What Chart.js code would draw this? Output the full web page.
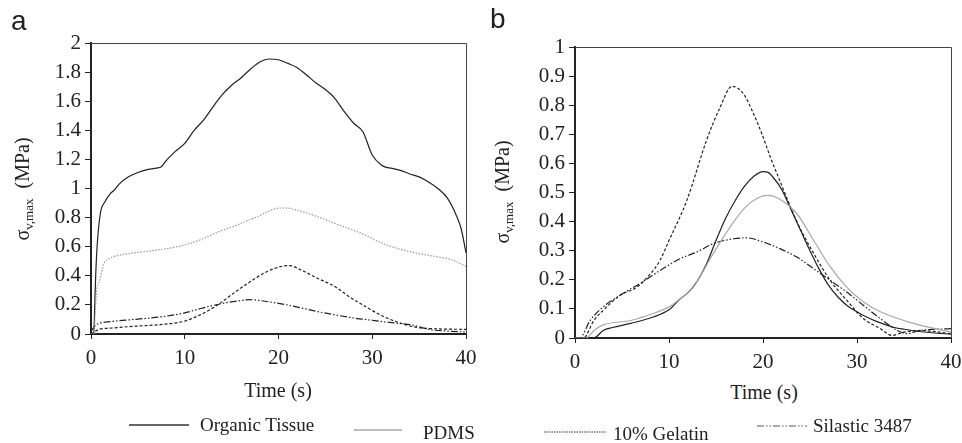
<!DOCTYPE html>
<html>
<head>
<meta charset="utf-8">
<script src="https://cdn.jsdelivr.net/npm/chart.js@4.4.1/dist/chart.umd.min.js"></script>
<style>
  body { margin: 0; background: #fff; width: 962px; height: 443px; position: relative; overflow: hidden;
         font-family: "Liberation Serif", "Times New Roman", serif; color: #222; }
  .wrap { position: absolute; }
  .panel { position: absolute; font-family: "Liberation Sans", Arial, sans-serif; font-size: 28px; line-height: 1; color: #222; }
  .xt { position: absolute; font-size: 20px; line-height: 1; transform: translate(-50%, -50%); white-space: nowrap; }
  .yt { position: absolute; font-size: 20px; line-height: 1; transform: translate(-50%, -50%) rotate(-90deg); white-space: nowrap; }
  .yt sub { font-size: 13px; vertical-align: -4px; }
  .lg { position: absolute; font-size: 19px; line-height: 1; white-space: nowrap; transform: translateY(-50%); }
  canvas.sw { position: absolute; }
</style>
</head>
<body>
<div class="wrap" style="left:0;top:0;width:480px;height:380px"><canvas id="chartA"></canvas></div>
<div class="wrap" style="left:480px;top:0;width:482px;height:380px"><canvas id="chartB"></canvas></div>

<div class="panel" style="left:11px;top:7px">a</div>
<div class="panel" style="left:490px;top:5px">b</div>
<div class="yt" style="left:23px;top:189px">σ<sub>v,max</sub>&nbsp;&nbsp;(MPa)</div>
<div class="yt" style="left:503px;top:192px">σ<sub>v,max</sub>&nbsp;&nbsp;(MPa)</div>
<div class="xt" style="left:278px;top:390px">Time (s)</div>
<div class="xt" style="left:764px;top:392px">Time (s)</div>

<canvas class="sw" id="swTissue" width="60" height="8" style="left:129px;top:421px"></canvas>
<div class="lg" style="left:200px;top:424px">Organic Tissue</div>
<canvas class="sw" id="swPdms" width="48" height="8" style="left:354px;top:426px"></canvas>
<div class="lg" style="left:423px;top:432px">PDMS</div>
<canvas class="sw" id="swGelatin" width="62" height="8" style="left:544px;top:428px"></canvas>
<div class="lg" style="left:613px;top:433px">10% Gelatin</div>
<canvas class="sw" id="swSilastic" width="50" height="8" style="left:757px;top:422px"></canvas>
<div class="lg" style="left:813px;top:425px">Silastic 3487</div>

<script>
// ---- panel a ----
const tissueA_t = [0, 0.3, 0.4, 0.5, 0.65, 1, 1.5, 2, 2.5, 3, 4, 5, 6, 7, 7.5, 8, 9, 10, 11, 12, 13, 14, 15, 16, 17, 18, 19, 20, 21, 22, 23, 24, 25, 26, 27, 28, 29, 30, 31, 31.5, 32, 33, 34, 35, 36, 37, 38, 39, 39.5, 40];
const tissueA_y = [0, 0, 0.2, 0.4, 0.6, 0.83, 0.91, 0.96, 0.99, 1.03, 1.08, 1.11, 1.13, 1.14, 1.15, 1.19, 1.255, 1.31, 1.40, 1.47, 1.56, 1.645, 1.71, 1.76, 1.82, 1.87, 1.89, 1.885, 1.86, 1.83, 1.78, 1.725, 1.68, 1.62, 1.53, 1.45, 1.39, 1.23, 1.16, 1.145, 1.14, 1.125, 1.10, 1.08, 1.045, 1.0, 0.935, 0.81, 0.72, 0.557];

const pdmsA_t = [0, 0.3, 0.45, 0.6, 0.9, 1.35, 2, 2.6, 4.6, 7.4, 9.9, 11.7, 13.5, 15.2, 17.5, 20.2, 21, 22, 24, 25.9, 28.75, 30.2, 31.2, 32.5, 34.6, 37, 38.5, 40];
const pdmsA_y = [0, 0, 0.15, 0.30, 0.36, 0.48, 0.52, 0.535, 0.557, 0.58, 0.61, 0.648, 0.70, 0.74, 0.80, 0.866, 0.865, 0.85, 0.81, 0.763, 0.694, 0.65, 0.62, 0.592, 0.557, 0.53, 0.51, 0.465];

const gelatinA_t = [0, 0.5, 1, 2, 4.55, 7.4, 9.9, 11.7, 13.5, 15.2, 17, 18.8, 20.6, 21.2, 22.4, 24.1, 25.9, 27.7, 29.5, 31.2, 33, 34.8, 37, 40];
const gelatinA_y = [0, 0.02, 0.035, 0.04, 0.053, 0.065, 0.087, 0.133, 0.20, 0.28, 0.36, 0.43, 0.468, 0.47, 0.44, 0.385, 0.33, 0.25, 0.18, 0.12, 0.075, 0.045, 0.035, 0.032];

const silasticA_t = [0, 0.5, 1, 2, 4.55, 7.5, 9.9, 11.7, 14, 16, 17, 18, 20.9, 24.1, 25.9, 28, 29.5, 32.3, 34.1, 36.2, 38, 40];
const silasticA_y = [0.02, 0.06, 0.076, 0.085, 0.10, 0.118, 0.144, 0.175, 0.21, 0.23, 0.236, 0.23, 0.20, 0.155, 0.133, 0.11, 0.098, 0.076, 0.064, 0.03, 0.02, 0.014];

// ---- panel b ----
const tissueB_t = [0, 2, 3, 4, 5.9, 8.3, 10, 11.2, 12, 13, 14, 15, 16, 17, 18, 19, 20, 20.5, 21, 22, 23, 24, 25, 26, 27, 28, 29, 30, 31, 32, 33, 34, 35, 36, 38, 40];
const tissueB_y = [0, 0, 0.026, 0.036, 0.05, 0.072, 0.097, 0.135, 0.155, 0.195, 0.255, 0.335, 0.41, 0.47, 0.52, 0.555, 0.572, 0.57, 0.555, 0.51, 0.44, 0.37, 0.30, 0.235, 0.18, 0.14, 0.11, 0.09, 0.072, 0.058, 0.046, 0.036, 0.03, 0.025, 0.018, 0.013];

const pdmsB_t = [0, 1.2, 2, 3, 5.9, 8.3, 10, 11.2, 12.6, 14.7, 16.9, 18.3, 19.5, 20.5, 21.5, 23.6, 25.4, 27.15, 28.9, 30.7, 32.5, 36, 40];
const pdmsB_y = [0, 0, 0.025, 0.045, 0.06, 0.084, 0.107, 0.135, 0.175, 0.29, 0.40, 0.455, 0.482, 0.49, 0.482, 0.427, 0.335, 0.245, 0.175, 0.124, 0.09, 0.05, 0.02];

const gelatinB_t = [0, 0.9, 2, 3, 4.8, 6.6, 8, 9.05, 10, 11.9, 14, 15.4, 16.7, 17.9, 19, 19.9, 20.8, 21.8, 23.6, 25.4, 27.15, 28.9, 30.7, 32.5, 33.7, 35, 36.7, 40];
const gelatinB_y = [0, 0, 0.06, 0.095, 0.147, 0.175, 0.22, 0.267, 0.335, 0.473, 0.68, 0.79, 0.865, 0.84, 0.77, 0.70, 0.62, 0.54, 0.40, 0.29, 0.198, 0.13, 0.066, 0.032, 0.009, 0.02, 0.026, 0.015];

const silasticB_t = [0, 0.5, 1.6, 3, 4.8, 6.9, 9.05, 11.2, 13, 14.7, 16.9, 18.3, 20, 21.8, 23.6, 25.4, 27.15, 28.9, 30.7, 32.5, 34.3, 35.3, 36.7, 40];
const silasticB_y = [0, 0, 0.06, 0.107, 0.147, 0.187, 0.232, 0.273, 0.296, 0.324, 0.341, 0.344, 0.33, 0.307, 0.278, 0.238, 0.198, 0.158, 0.112, 0.066, 0.026, 0.015, 0.026, 0.032];

// ---- ticks ----
const xTicks = ["0", "10", "20", "30", "40"];
const yTicksA = ["0", "0.2", "0.4", "0.6", "0.8", "1", "1.2", "1.4", "1.6", "1.8", "2"];
const yTicksB = ["0", "0.1", "0.2", "0.3", "0.4", "0.5", "0.6", "0.7", "0.8", "0.9", "1"];

const INK = "#222";
const GREY = "#a8a8a8";
const DASH_GEL = [3, 2];
const DASH_SIL = [7, 2, 1.5, 2, 1.5, 2];
const DOT_PDMS = [1.5, 1.5];

function pts(t, y) {
  return t.map((x, i) => ({ x: x, y: y[i] }));
}

function line(label, t, y, color, dash) {
  return {
    label: label,
    data: pts(t, y),
    borderColor: color,
    borderWidth: 1.2,
    borderDash: dash || [],
    pointRadius: 0,
    fill: false,
    cubicInterpolationMode: "monotone",
  };
}

// top + right frame lines
const framePlugin = {
  id: "frame",
  afterDatasetsDraw(chart) {
    const a = chart.chartArea;
    const ctx = chart.ctx;
    ctx.save();
    ctx.strokeStyle = "#444";
    ctx.lineWidth = 1;
    ctx.beginPath();
    ctx.moveTo(a.left, a.top + 0.5);
    ctx.lineTo(a.right + 0.5, a.top + 0.5);
    ctx.lineTo(a.right + 0.5, a.bottom);
    ctx.stroke();
    ctx.restore();
  },
};

function makeChart(id, datasets, yMax, yStep, yLabels, pad, yWidth, xHeight) {
  return new Chart(document.getElementById(id), {
    type: "line",
    data: { datasets: datasets },
    plugins: [framePlugin],
    options: {
      responsive: true,
      maintainAspectRatio: false,
      animation: false,
      layout: { padding: pad },
      plugins: { legend: { display: false }, tooltip: { enabled: false } },
      scales: {
        x: {
          type: "linear",
          min: 0,
          max: 40,
          afterFit(s) { s.height = xHeight; s.paddingLeft = 0; s.paddingRight = 0; },
          ticks: {
            stepSize: 10,
            padding: 7,
            color: INK,
            font: { family: "Liberation Serif", size: 21 },
            callback: (v) => xTicks[Math.round(v / 10)],
          },
          grid: { display: true, drawOnChartArea: false, tickLength: 5, color: INK },
          border: { display: true, color: INK, width: 2 },
        },
        y: {
          min: 0,
          max: yMax,
          afterFit(s) { s.width = yWidth; s.paddingTop = 0; s.paddingBottom = 0; },
          ticks: {
            stepSize: yStep,
            padding: 4,
            color: INK,
            font: { family: "Liberation Serif", size: 21 },
            callback: (v) => yLabels[Math.round(v / yStep)],
          },
          grid: { display: true, drawOnChartArea: false, tickLength: 6, color: INK },
          border: { display: true, color: INK, width: 2 },
        },
      },
    },
  });
}

makeChart("chartA", [
  line("PDMS", pdmsA_t, pdmsA_y, "#9a9a9a", DOT_PDMS),
  line("10% Gelatin", gelatinA_t, gelatinA_y, INK, DASH_GEL),
  line("Silastic 3487", silasticA_t, silasticA_y, INK, DASH_SIL),
  line("Organic Tissue", tissueA_t, tissueA_y, INK),
], 2, 0.2, yTicksA, { left: 0, right: 14, top: 43, bottom: 0 }, 91, 46);

makeChart("chartB", [
  line("PDMS", pdmsB_t, pdmsB_y, GREY),
  line("10% Gelatin", gelatinB_t, gelatinB_y, INK, DASH_GEL),
  line("Silastic 3487", silasticB_t, silasticB_y, INK, DASH_SIL),
  line("Organic Tissue", tissueB_t, tissueB_y, INK),
], 1, 0.1, yTicksB, { left: 0, right: 11, top: 47, bottom: 0 }, 95, 42);

// legend samples
function swatch(id, color, dash, width) {
  const c = document.getElementById(id);
  const ctx = c.getContext("2d");
  ctx.strokeStyle = color;
  ctx.lineWidth = width;
  ctx.setLineDash(dash);
  ctx.beginPath();
  ctx.moveTo(0, 4);
  ctx.lineTo(c.width, 4);
  ctx.stroke();
}
swatch("swTissue", "#333", [], 1.5);
swatch("swPdms", GREY, [], 1.5);
swatch("swGelatin", "#333", [1.5, 1], 1);
swatch("swSilastic", "#555", DASH_SIL, 1);
</script>
</body>
</html>
